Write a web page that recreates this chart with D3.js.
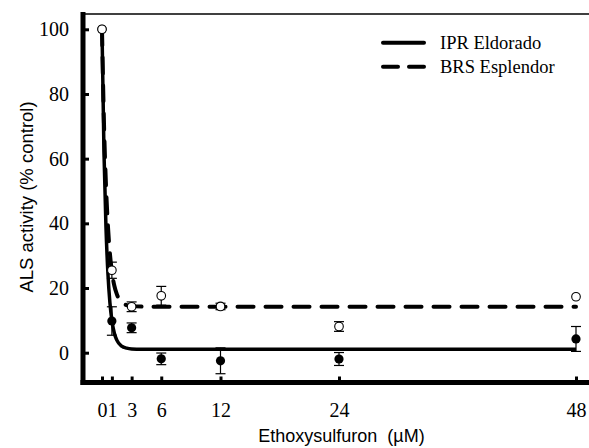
<!DOCTYPE html>
<html><head><meta charset="utf-8">
<script src="https://cdn.jsdelivr.net/npm/d3@7"></script>
<style>html,body{margin:0;padding:0;background:#fff;}</style>
</head><body>
<svg id="c" width="589" height="448"></svg>
<script>
const doses = [0, 1, 3, 6, 12, 24, 48];
const iprMean = [100, 9.8, 7.7, -1.9, -2.5, -1.95, 4.25];
const iprErr  = [0, 4.4, 1.5, 1.8, 4.0, 2.0, 3.85];
const brsMean = [100, 25.5, 14.2, 17.6, 14.3, 8.1, 17.3];
const brsErr  = [0, 2.5, 1.5, 2.9, 1.0, 1.5, 0];
const iprCurveX = [0, 0.2, 0.4, 0.6, 0.8, 1, 1.25, 1.5, 2, 2.5, 3, 4, 6, 12, 24, 48];
const iprCurveY = [100, 62, 39, 24.5, 15.5, 10, 6, 3.9, 2.0, 1.4, 1.15, 1.05, 1.05, 1.05, 1.05, 1.05];
const brsCurveX = [0, 0.2, 0.4, 0.6, 0.8, 1, 1.25, 1.5, 2, 2.5, 3, 4, 6, 12, 24, 48];
const brsCurveY = [100, 71, 52, 39.2, 30.7, 25.1, 20.7, 18.1, 15.6, 14.7, 14.4, 14.25, 14.2, 14.2, 14.2, 14.2];
const xTicks = [0, 1, 3, 6, 12, 24, 48];
const yTicks = [0, 20, 40, 60, 80, 100];
const seriesNames = ["IPR Eldorado", "BRS Esplendor"];

const svg = d3.select("#c");
const x = d3.scaleLinear().domain([0, 48]).range([102, 576]);
const y = d3.scaleLinear().domain([0, 100]).range([352.7, 29.3]);
const pLeft = 83, pBottom = 382.5, pTop = 12, pRight = 589;

// top border
svg.append("line").attr("x1", pLeft).attr("x2", pRight).attr("y1", 14).attr("y2", 14)
  .attr("stroke", "#000").attr("stroke-width", 1.5);

// curves
const line = d3.line().x(d => x(d[0])).y(d => y(d[1])).curve(d3.curveMonotoneX);
svg.append("path").datum(iprCurveX.map((v, i) => [v, iprCurveY[i]]))
  .attr("d", line).attr("fill", "none").attr("stroke", "#000").attr("stroke-width", 3.5);
svg.append("path").datum(brsCurveX.map((v, i) => [v, brsCurveY[i]]))
  .attr("d", line).attr("fill", "none").attr("stroke", "#000").attr("stroke-width", 4)
  .attr("stroke-dasharray", "16,12").attr("stroke-linecap", "round");

// error bars
function errBars(mean, err) {
  const g = svg.append("g").attr("stroke", "#000").attr("stroke-width", 1.2);
  doses.forEach((d, i) => {
    if (!err[i]) return;
    const cx = x(d), y1 = y(mean[i] + err[i]), y2 = y(mean[i] - err[i]);
    g.append("line").attr("x1", cx).attr("x2", cx).attr("y1", y1).attr("y2", y2);
    g.append("line").attr("x1", cx - 5).attr("x2", cx + 5).attr("y1", y1).attr("y2", y1);
    g.append("line").attr("x1", cx - 5).attr("x2", cx + 5).attr("y1", y2).attr("y2", y2);
  });
}
errBars(iprMean, iprErr);
errBars(brsMean, brsErr);

// points
svg.append("g").selectAll("circle").data(doses).join("circle")
  .attr("cx", d => x(d)).attr("cy", (d, i) => y(iprMean[i])).attr("r", 4.6).attr("fill", "#000");
svg.append("g").selectAll("circle").data(doses).join("circle")
  .attr("cx", d => x(d)).attr("cy", (d, i) => y(brsMean[i])).attr("r", 4.3)
  .attr("fill", "#fff").attr("stroke", "#000").attr("stroke-width", 1.1);

// axes
svg.append("line").attr("x1", pLeft).attr("x2", pLeft).attr("y1", pTop).attr("y2", pBottom + 2.5)
  .attr("stroke", "#000").attr("stroke-width", 5);
svg.append("line").attr("x1", pLeft - 2.5).attr("x2", pRight).attr("y1", pBottom).attr("y2", pBottom)
  .attr("stroke", "#000").attr("stroke-width", 5);

const yAxis = d3.axisLeft(y).tickValues(yTicks).tickSize(-6).tickPadding(14).tickFormat(d3.format("d"));
const gy = svg.append("g").attr("transform", `translate(${pLeft},0)`).call(yAxis);
gy.select(".domain").remove();
gy.selectAll(".tick line").attr("stroke-width", 3);
gy.selectAll(".tick text").attr("font-family", "Liberation Serif, Times New Roman, serif")
  .attr("font-size", 20).attr("fill", "#000");

const xAxis = d3.axisBottom(x).tickValues(xTicks).tickSize(-6).tickPadding(20).tickFormat(d3.format("d"));
const gx = svg.append("g").attr("transform", `translate(0,${pBottom})`).call(xAxis);
gx.select(".domain").remove();
gx.selectAll(".tick line").attr("stroke-width", 3);
gx.selectAll(".tick text").attr("font-family", "Liberation Serif, Times New Roman, serif")
  .attr("font-size", 20).attr("fill", "#000");

// axis labels
svg.append("text").attr("transform", "translate(33,197) rotate(-90)").attr("text-anchor", "middle")
  .attr("font-family", "Liberation Sans, Arial, sans-serif").attr("font-size", 18.5)
  .text("ALS activity (% control)");
svg.append("text").attr("x", 341.5).attr("y", 442).attr("text-anchor", "middle")
  .attr("font-family", "Liberation Sans, Arial, sans-serif").attr("font-size", 18)
  .style("white-space", "pre")
  .text("Ethoxysulfuron  (\u00B5M)");

// legend
const leg = svg.append("g");
[0, 1].forEach(i => {
  const ly = 42.7 + i * 24;
  leg.append("line").attr("x1", 383).attr("x2", 424).attr("y1", ly).attr("y2", ly)
    .attr("stroke", "#000").attr("stroke-width", 4)
    .attr("stroke-linecap", "round")
    .attr("stroke-dasharray", i === 1 ? "15,11" : null);
  leg.append("text").attr("x", 440).attr("y", ly + 6).attr("font-family", "Liberation Serif, Times New Roman, serif")
    .attr("font-size", 18.5).text(seriesNames[i]);
});
</script>
</body></html>
